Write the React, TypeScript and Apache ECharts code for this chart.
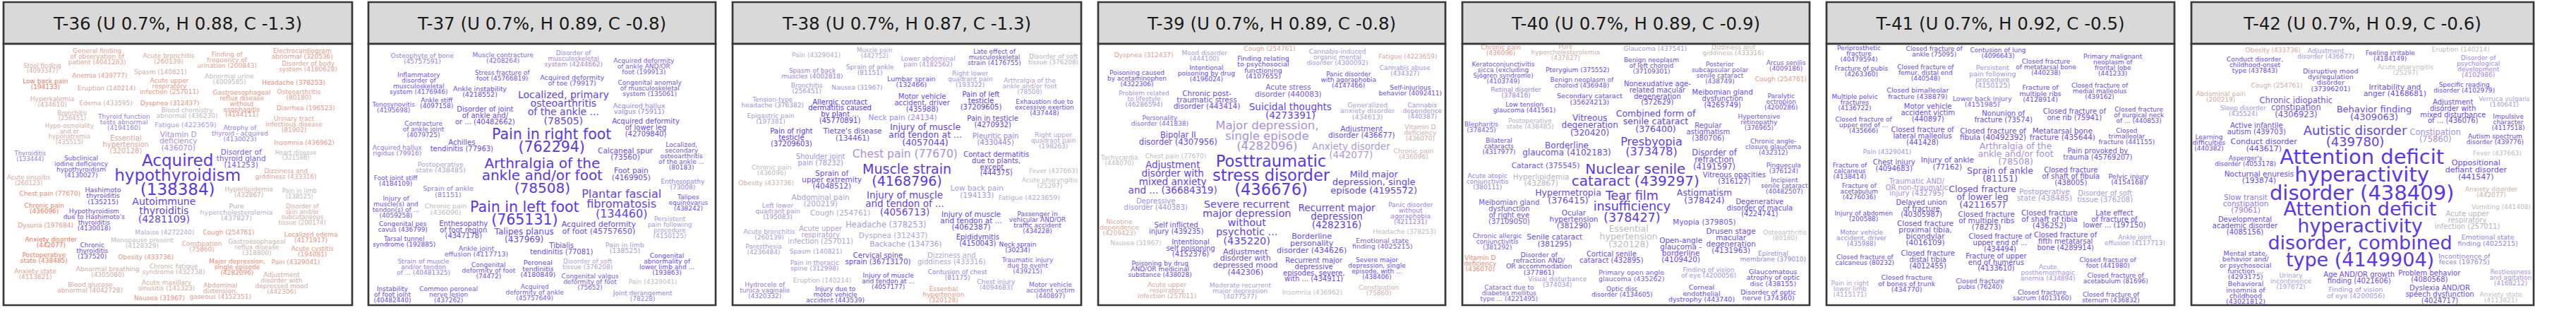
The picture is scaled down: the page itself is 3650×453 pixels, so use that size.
import { useEffect, useRef } from "react";
import * as echarts from "echarts";

// [label, x, y, weight, tone]  x/y are layout units of the cloud (3 per px of its crop)
type Word = [string, number, number, number, number];

const titles = [
  "T-36 (U 0.7%, H 0.88, C -1.3)",
  "T-37 (U 0.7%, H 0.89, C -0.8)",
  "T-38 (U 0.7%, H 0.87, C -1.3)",
  "T-39 (U 0.7%, H 0.89, C -0.8)",
  "T-40 (U 0.7%, H 0.89, C -0.9)",
  "T-41 (U 0.7%, H 0.92, C -0.5)",
  "T-42 (U 0.7%, H 0.9, C -0.6)",
];

const t36: Word[] = [
  ["General finding\nof observation of\npatient (4041283)", 413, 240, 9, -1],
  ["Acute bronchitis\n(260139)", 717, 248, 9, -0.8],
  ["Finding of\nfrequency of\nurination (200843)", 965, 255, 9, -1],
  ["Electrocardiogram\nabnormal (320536)", 1285, 228, 9, -1.2],
  ["Stool finding\n(4093347)", 180, 290, 8.5, -0.6],
  ["Disorder of body\nsystem (4180628)", 1310, 283, 9, -1],
  ["Spasm (140821)", 682, 305, 9, -0.6],
  ["Anemia (439777)", 424, 320, 9, -1.2],
  ["Abnormal urine\n(4009585)", 975, 335, 9, 0],
  ["Low back pain\n(194133)", 193, 358, 9, -1.9],
  ["Headache (378253)", 1248, 350, 9, -1.5],
  ["Eruption (140214)", 453, 374, 9, -0.8],
  ["Acute upper\nrespiratory\ninfection (257011)", 720, 367, 9, -1.2],
  ["Gastroesophageal\nreflux disease\nwithout\nesophagitis\n(4144111)", 1028, 440, 9, -1.3],
  ["Osteoarthritis\n(80180)", 1270, 402, 9, -1],
  ["Hyperkalemia\n(434610)", 222, 433, 9, -0.7],
  ["Edema (433595)", 450, 437, 9, -0.5],
  ["Dyspnea (312437)", 722, 437, 9, -1.3],
  ["Diarrhea (196523)", 1300, 458, 9, -1.2],
  ["Blood chemistry\nabnormal (436230)", 795, 479, 9, -0.1],
  ["Bronchitis\n(256451)", 307, 490, 8.5, -0.5],
  ["Thyroid function\ntests abnormal\n(4194160)", 527, 518, 9, 1.2],
  ["Fatigue (4223659)", 789, 528, 9.5, 0.8],
  ["Urinary tract\ninfectious disease\n(81902)", 1250, 528, 9, -1],
  ["Hypo-osmolality\nand or\nhyponatremia\n(435515)", 295, 568, 8.5, -0.5],
  ["Atrophy of\nthyroid - acquired\n(4130023)", 1020, 568, 9, 1.2],
  ["Essential\nhypertension\n(320128)", 535, 613, 10, -0.8],
  ["Vitamin D\ndeficiency\n(436070)", 758, 598, 10.5, 1],
  ["Insomnia (436962)", 1293, 605, 9, -1.2],
  ["Thyroiditis\n(133444)", 128, 663, 8.5, 1.2],
  ["Subclinical\niodine deficiency\nhypothyroidism\n(4130027)", 345, 708, 9, 1.7],
  ["Acquired\nhypothyroidism\n(138384)", 755, 743, 23, 2],
  ["Disorder of\nthyroid gland\n(141253)", 1025, 672, 10.5, 1.6],
  ["Heart disease\n(321588)", 1257, 659, 8.5, 0],
  ["Dizziness and\ngiddiness (433316)", 1216, 737, 9, -0.8],
  ["Acute sinusitis\n(260123)", 122, 765, 8.5, -0.7],
  ["Hyperlipidemia\n(432867)", 1058, 817, 9, -0.6],
  ["Pain in limb\n(138525)", 1273, 822, 8.5, -0.1],
  ["Chest pain (77670)", 212, 821, 9, -1.5],
  ["Hashimoto\nthyroiditis\n(135215)", 438, 830, 9.5, 1.8],
  ["Autoimmune\nthyroiditis\n(4281109)", 697, 893, 14, 1.9],
  ["Pure\nhypercholesterolemia\n(437827)", 1005, 900, 9.5, 0.3],
  ["Disorder of\nskin and/or\nsubcutaneous\ntissue (200174)", 1285, 910, 8.5, -0.6],
  ["Chronic pain\n(436096)", 188, 885, 9, -1.8],
  ["Hypothyroidism\ndue to Hashimoto's\nthyroiditis\n(4130018)", 400, 932, 9, 1.8],
  ["Dysuria (197684)", 194, 958, 9, -1.2],
  ["Malaise (4272240)", 700, 988, 9, 0.5],
  ["Cough (254761)", 972, 988, 9, -1.3],
  ["Localized edema\n(4171917)", 1322, 1007, 9, -1.3],
  ["Anxiety disorder\n(442077)", 217, 1030, 9, -2],
  ["Chronic\nthyroiditis\n(137520)", 392, 1065, 9, 1.8],
  ["Menopause present\n(4128329)", 604, 1033, 9, 0],
  ["Constipation\n(75860)", 858, 1047, 9, -1],
  ["Gastroesophageal\nreflux disease\n(318800)", 1092, 1050, 9, -0.3],
  ["Acute cystitis\n(194081)", 1328, 1067, 9, -1.2],
  ["Postoperative\nstate (438485)", 187, 1095, 9, -1.8],
  ["Obesity (433736)", 620, 1093, 9, -1.3],
  ["Major depression,\nsingle episode\n(4282096)", 1008, 1133, 9, -1.5],
  ["Pain (4329041)", 1257, 1114, 9, -1.2],
  ["Anxiety state\n(4113821)", 150, 1165, 9, -1],
  ["Abnormal breathing\n(4305080)", 458, 1155, 9, -0.6],
  ["Chronic fatigue\nsyndrome (432738)", 738, 1142, 9, -0.3],
  ["Adjustment\ndisorder with\ndepressed mood\n(442306)", 1197, 1203, 9, -0.7],
  ["Blood glucose\nabnormal (4042728)", 383, 1220, 9, -0.8],
  ["Acute maxillary\nsinusitis (141323)", 708, 1213, 9, -0.7],
  ["Abdominal\ndistension,\ngaseous (4152351)", 937, 1235, 9, -1],
  ["Nausea (31967)", 678, 1267, 9, -1.3],
];

const t37: Word[] = [
  ["Osteophyte of bone\n(45757591)", 235, 250, 9, 1.2],
  ["Muscle contracture\n(4208264)", 578, 245, 9, 1.5],
  ["Disorder of\nmusculoskeletal\nsystem (4244662)", 878, 250, 9, 1.1],
  ["Acquired deformity\nof ankle AND/OR\nfoot (199913)", 1177, 282, 9, 1.6],
  ["Inflammatory\ndisorder of\nmusculoskeletal\nsystem (4176946)", 220, 355, 9, 1.7],
  ["Stress fracture of\nfoot (45766819)", 575, 320, 9, 1.7],
  ["Acquired deformity\nof toe (79917)", 872, 340, 9.5, 1.7],
  ["Congenital anomaly\nof musculoskeletal\nsystem (135061)", 1202, 375, 9, 1.7],
  ["Ankle instability\n(4218552)", 480, 388, 9.5, 1.8],
  ["Localized, primary\nosteoarthritis\nof the ankle ...\n(78505)", 835, 457, 14, 1.9],
  ["Ankle stiff\n(4097158)", 296, 437, 9, 1.8],
  ["Tenosynovitis\n(4195698)", 113, 455, 9, 1.6],
  ["Disorder of joint\nof ankle and/\nor ... (40482662)", 502, 490, 10, 1.8],
  ["Acquired hallux\nvalgus (75911)", 1157, 460, 9.5, 1.2],
  ["Acquired deformity\nof lower leg\n(42709840)", 1185, 542, 10, 1.8],
  ["Contracture\nof ankle joint\n(4079725)", 240, 548, 9, 1.7],
  ["Pain in right foot\n(762294)", 785, 598, 20.5, 2],
  ["Achilles\ntendinitis (77963)", 403, 617, 10, 1.8],
  ["Acquired hallux\nrigidus (79916)", 128, 638, 9, 1.3],
  ["Calcaneal spur\n(73560)", 1098, 653, 10.5, 1.8],
  ["Localized,\nsecondary\nosteoarthritis\nof the ankle ...\n(80183)", 1337, 663, 9, 1.7],
  ["Postoperative\nstate (438485)", 313, 710, 9.5, 0.6],
  ["Arthralgia of the\nankle and/or foot\n(78508)", 745, 745, 20, 2],
  ["Foot pain\n(4169905)", 1123, 738, 10.5, 1.8],
  ["Foot joint stiff\n(4184109)", 122, 768, 9, 1.7],
  ["Enthesopathy\n(73008)", 1342, 782, 9, 1.2],
  ["Sprain of ankle\n(81151)", 345, 813, 9.5, 1.3],
  ["Plantar fascial\nfibromatosis\n(134460)", 1082, 865, 16, 1.9],
  ["Talipes\nequinovarus\n(438242)", 1366, 860, 9, 1.7],
  ["Injury of\nmuscle(s) and\ntendon(s) of ...\n(4059258)", 123, 880, 9, 1.7],
  ["Chronic pain\n(436096)", 335, 888, 9.5, 0],
  ["Pain in left foot\n(765131)", 670, 905, 20.5, 2],
  ["Persistent\npain following\nprocedure\n(4150125)", 1287, 965, 9, 0.8],
  ["Congenital pes\ncavus (436799)", 152, 963, 9, 1.8],
  ["Enthesopathy\nof foot region\n(4347178)", 410, 975, 10, 1.8],
  ["Talipes planus\n(437969)", 668, 1000, 12, 1.8],
  ["Acquired deformity\nof foot (45757650)", 985, 967, 11, 1.8],
  ["Tarsal tunnel\nsyndrome (192885)", 158, 1025, 9, 1.8],
  ["Ankle joint\neffusion (4117713)", 465, 1066, 9.5, 1.6],
  ["Tibialis\ntendinitis (77081)", 827, 1055, 10, 1.8],
  ["Pain in limb\n(138525)", 1096, 1051, 9.5, 0.8],
  ["Strain of muscle\nand/or tendon\nof ... (40481325)", 240, 1133, 9, 1.2],
  ["Congenital\ndeformity of foot\n(74472)", 517, 1150, 9, 1.7],
  ["Peroneal\ntendinitis\n(4180849)", 727, 1140, 9.5, 1.8],
  ["Disorder of soft\ntissue (376208)", 938, 1121, 9, 0.6],
  ["Congenital\nabnormality of\nlower limb and ...\n(193863)", 1275, 1122, 9, 1.8],
  ["Congenital valgus\ndeformity of foot\n(75652)", 948, 1198, 9, 1.6],
  ["Pain (4329041)", 1215, 1196, 9, 0],
  ["Instability\nof foot joint\n(40482440)", 108, 1250, 9, 1.8],
  ["Common peroneal\nnerve lesion\n(437262)", 347, 1250, 9, 1.7],
  ["Acquired\ndeformity of ankle\n(45757649)", 713, 1243, 9, 1.6],
  ["Joint derangement\n(78228)", 1172, 1258, 9, 1.2],
];

const t38: Word[] = [
  ["Pain (4329041)", 350, 233, 9, 0.5],
  ["Muscle pain\n(442752)", 598, 225, 8.5, 0.7],
  ["Lower abdominal\npain (4182562)", 825, 260, 9, 1],
  ["Late effect of\nmusculoskeletal\nstrain (4176755)", 1107, 243, 9, 1.8],
  ["Disorder of soft\ntissue (376208)", 1358, 252, 9, 0.3],
  ["Spasm of back\nmuscles (4002818)", 333, 312, 9, 1.2],
  ["Sprain of ankle\n(81151)", 578, 297, 9, 1.1],
  ["Lumbar sprain\n(132466)", 754, 346, 9.5, 1.8],
  ["Right lower\nquadrant pain\n(193322)", 1004, 335, 9, 1],
  ["Arthralgia of the\nankle and/or foot\n(78508)", 1257, 367, 9, 0.6],
  ["Bronchitis\n(256451)", 309, 374, 9, 1],
  ["Nausea (31967)", 523, 371, 9, 1],
  ["Tension-type\nheadache (376382)", 164, 436, 9, 1],
  ["Allergic contact\ndermatitis caused\nby plant ...\n(45770891)", 450, 472, 10, 2],
  ["Motor vehicle\naccident, driver\n(435988)", 800, 437, 10, 1.8],
  ["Pain of left\ntesticle\n(37209605)", 1050, 428, 10, 2],
  ["Exhaustion due to\nexcessive exertion\n(437448)", 1320, 455, 9, 1.8],
  ["Epigastric pain\n(197381)", 156, 505, 9, 0.8],
  ["Neck pain (24134)", 717, 498, 10.5, 1.1],
  ["Pain in testicle\n(4270932)", 1100, 515, 10, 1.9],
  ["Pain of right\ntesticle\n(37209603)", 244, 583, 10, 2],
  ["Tietze's disease\n(134461)", 504, 570, 10.5, 1.8],
  ["Injury of muscle\nand tendon at ...\n(4057044)", 813, 570, 12.5, 1.9],
  ["Pleuritic pain\n(4330445)", 1112, 590, 10, 1.2],
  ["Right upper\nquadrant pain\n(198263)", 1358, 598, 9, 0.6],
  ["Chest pain (77670)", 727, 655, 15.5, 1],
  ["Contact dermatitis\ndue to plants,\nexcept ...\n(444375)", 1115, 695, 10, 1.9],
  ["Shoulder joint\npain (78232)", 368, 677, 10, 1],
  ["Chronic pain\n(436096)", 160, 722, 9, 0],
  ["Fever (437663)", 1358, 725, 9, 0],
  ["Muscle strain\n(4168796)", 735, 743, 19, 2],
  ["Sprain of\nupper extremity\n(4048512)", 416, 762, 10.5, 1.8],
  ["Obesity (433736)", 137, 778, 9, -0.5],
  ["Acute pharyngitis\n(25297)", 1342, 778, 9, 0],
  ["Low back pain\n(194133)", 1033, 813, 10.5, 0.8],
  ["Fatigue (4223659)", 1255, 838, 9.5, 0.4],
  ["Abdominal pain\n(200219)", 368, 850, 10.5, 0.7],
  ["Injury of muscle\nand tendon of ...\n(4056713)", 726, 865, 13.5, 1.9],
  ["Left lower\nquadrant pain\n(195083)", 186, 898, 9, 1],
  ["Cough (254761)", 452, 903, 10.5, 0.5],
  ["Injury of muscle\nand tendon at ...\n(4062387)", 1008, 936, 10.5, 1.9],
  ["Passenger in\nvehicular AND/OR\ntraffic accident\n(434228)", 1290, 946, 9, 1.8],
  ["Headache (378253)", 646, 955, 11.5, 0.8],
  ["Acute bronchitis\n(260139)", 150, 996, 9, 0.8],
  ["Acute upper\nrespiratory\ninfection (257011)", 368, 997, 10, 0.6],
  ["Dyspnea (312437)", 677, 1000, 10.5, 0.6],
  ["Epididymitis\n(4150043)", 1036, 1020, 10, 1.9],
  ["Neck sprain\n(30234)", 1206, 1050, 9, 1.9],
  ["Paresthesia\n(4236484)", 126, 1060, 9, 0.8],
  ["Spasm (140821)", 348, 1067, 9, 0.8],
  ["Backache (134736)", 730, 1035, 10.5, 0.8],
  ["Cervical spine\nsprain (36713170)", 612, 1098, 10, 1.9],
  ["Dizziness and\ngiddiness (433316)", 925, 1098, 10, 0.5],
  ["Traumatic injury\ndue to event\n(439215)", 1248, 1127, 9, 1.6],
  ["Pain in thoracic\nspine (312998)", 343, 1127, 9, 1],
  ["Contusion of chest\n(81175)", 950, 1168, 9, 1.2],
  ["Eruption (140214)", 375, 1190, 9, 0.2],
  ["Injury of muscle\nand tendon at ...\n(4057177)", 656, 1193, 9, 1.9],
  ["Chest injury\n(4094683)", 1114, 1208, 9, 1],
  ["Motor vehicle\naccident victim\n(440897)", 1345, 1232, 9, 1.6],
  ["Hydrocele of\ntunica vaginalis\n(4320332)", 131, 1233, 9, 1.3],
  ["Injury due to\nmotor vehicle\naccident (443539)", 431, 1250, 9, 1.8],
  ["Essential\nhypertension\n(320128)", 891, 1250, 9, -1.2],
];

const t39: Word[] = [
  ["Dyspnea (312437)", 182, 233, 9, -1],
  ["Mood disorder\n(444100)", 440, 238, 9, 0.8],
  ["Cough (254761)", 717, 206, 9, -0.9],
  ["Cannabis-induced\norganic mental\ndisorder (4300092)", 1005, 242, 9, 0.9],
  ["Fatigue (4223659)", 1305, 239, 9, -0.7],
  ["Finding relating\nto psychosocial\nfunctioning\n(4107655)", 690, 285, 9.5, 1.8],
  ["Poisoning caused\nby acetaminophen\n(4322306)", 153, 333, 9, 1.8],
  ["Intentional\npoisoning by drug\n(4196024)", 448, 313, 9, 1.8],
  ["Cannabis abuse\n(434327)", 1292, 301, 9, 1],
  ["Panic disorder\nwith agoraphobia\n(4147466)", 1052, 340, 9, 1.8],
  ["Acute stress\ndisorder (440083)", 796, 384, 10.5, 1.6],
  ["Self-injurious\nbehavior (4092411)", 1315, 383, 9, 1.8],
  ["Problem related\nto lifestyle\n(46286594)", 183, 420, 9, 1],
  ["Chronic post-\ntraumatic stress\ndisorder (443414)", 450, 423, 10.5, 1.8],
  ["Suicidal thoughts\n(4273391)", 805, 472, 13.5, 1.9],
  ["Generalized\nanxiety disorder\n(434613)", 1133, 470, 9.5, 0.7],
  ["Cannabis\ndependence\n(440387)", 1366, 470, 9, 1],
  ["Personality\ndisorder (441838)", 250, 512, 9, 1.5],
  ["Major depression,\nsingle episode\n(4282096)", 706, 576, 16.5, 1],
  ["Adjustment\ndisorder (436677)", 1108, 560, 10.5, 1.8],
  ["Vitamin D\ndeficiency\n(436070)", 1357, 565, 9, -0.5],
  ["Bipolar II\ndisorder (4307956)", 328, 587, 11.5, 1.8],
  ["Anxiety disorder\n(442077)", 1063, 640, 13.5, 0.8],
  ["Chronic pain\n(436096)", 1329, 655, 9, -0.4],
  ["Tachycardia\n(444070)", 78, 680, 9, 0],
  ["Chest pain (77670)", 318, 662, 9, 0],
  ["Adjustment\ndisorder with\nmixed anxiety\nand ... (36684319)", 305, 753, 13.5, 1.9],
  ["Posttraumatic\nstress disorder\n(436676)", 723, 744, 22.5, 2],
  ["Mild major\ndepression, single\nepisode (4195572)", 1160, 773, 13, 1.9],
  ["Depressive\ndisorder (440383)", 233, 868, 10, 1],
  ["Severe recurrent\nmajor depression\nwithout\npsychotic ...\n(435220)", 620, 945, 14.5, 1.9],
  ["Recurrent major\ndepression\n(4282316)", 1002, 918, 13.5, 1.9],
  ["Panic disorder\nwithout\nagoraphobia\n(4211231)", 1316, 907, 9, 1.2],
  ["Nicotine\ndependence\n(4209423)", 78, 965, 9, -0.7],
  ["Self inflicted\ninjury (439235)", 320, 968, 10, 1.8],
  ["Headache (378253)", 1290, 983, 9, 0],
  ["Nausea (31967)", 148, 1033, 9, 0],
  ["Intentional\nself poisoning\n(4152376)", 381, 1053, 10, 1.8],
  ["Borderline\npersonality\ndisorder (434626)", 896, 1033, 11, 1.8],
  ["Emotional state\nfinding (4025215)", 1196, 1033, 9.5, 1.6],
  ["Adjustment\ndisorder with\ndepressed mood\n(442306)", 614, 1112, 11, 1.8],
  ["Poisoning by drug\nAND/OR medicinal\nsubstance (438028)", 251, 1143, 9, 1.8],
  ["Recurrent major\ndepressive\nepisodes, severe,\nwith ... (434911)", 905, 1145, 10, 1.8],
  ["Severe major\ndepression, single\nepisode, with ...\n(438406)", 1173, 1140, 9, 1.8],
  ["Acute upper\nrespiratory\ninfection (257011)", 281, 1233, 9, -0.7],
  ["Moderate recurrent\nmajor depression\n(4077577)", 592, 1237, 9, 0.8],
  ["Insomnia (436962)", 898, 1243, 9, 0],
  ["Constipation\n(75860)", 1181, 1232, 9, -0.4],
];

const t40: Word[] = [
  ["Chronic pain\n(436096)", 140, 212, 9, -1.2],
  ["Pure\nhypercholesterolemia\n(437827)", 415, 222, 9, -0.5],
  ["Glaucoma (437541)", 796, 208, 9, 0.8],
  ["Dizziness and\ngiddiness (433316)", 1128, 212, 9, -0.3],
  ["Keratoconjunctivitis\nsicca (excluding\nSjögren syndrome)\n(4103749)", 150, 310, 9, 1.7],
  ["Pterygium (375552)", 466, 296, 9, 1.8],
  ["Benign neoplasm\nof left choroid\n(37109301)", 780, 278, 9, 1.8],
  ["Posterior\nsubcapsular polar\nsenile cataract\n(438749)", 1071, 310, 9, 1.7],
  ["Arcus senilis\n(4009186)", 1352, 280, 9, 1.7],
  ["Cough (254761)", 1330, 335, 9, -1.2],
  ["Benign neoplasm of\nchoroid (436948)", 484, 350, 9, 1.7],
  ["Retinal disorder\n(378416)", 204, 392, 9, 1.2],
  ["Nonexudative age-\nrelated macular\ndegeneration\n(372629)", 805, 395, 10, 1.8],
  ["Secondary cataract\n(35624213)", 517, 420, 9.5, 1.8],
  ["Meibomian gland\ndysfunction\n(4265749)", 1082, 418, 10, 1.8],
  ["Paralytic\nectropion\n(4200286)", 1331, 433, 9, 1.7],
  ["Low tension\nglaucoma (441561)", 240, 455, 9, 1.8],
  ["Combined form of\nsenile cataract\n(376400)", 798, 515, 12.5, 1.9],
  ["Vitreous\ndegeneration\n(320420)", 518, 532, 12, 1.8],
  ["Postoperative\nstate (438485)", 264, 525, 9, 0.3],
  ["Blepharitis\n(378425)", 57, 540, 9, 1.6],
  ["Regular\nastigmatism\n(380706)", 1021, 560, 10, 1.7],
  ["Hypertensive\nretinopathy\n(376965)", 1237, 520, 9, 1.7],
  ["Bilateral\ncataracts\n(4317977)", 132, 622, 9, 1.8],
  ["Borderline\nglaucoma (4102183)", 420, 633, 12, 1.8],
  ["Presbyopia\n(373478)", 780, 622, 16, 1.9],
  ["Disorder of\nrefraction\n(4191597)", 1047, 677, 11.5, 1.8],
  ["Chronic angle-\nclosure glaucoma\n(432312)", 1298, 623, 9, 1.7],
  ["Cataract (375545)", 330, 703, 10.5, 1.7],
  ["Nuclear senile\ncataract (439297)", 712, 743, 20, 2],
  ["Pinguecula\n(376124)", 1342, 715, 9, 1.7],
  ["Vitreous opacities\n(316127)", 1132, 757, 10, 1.8],
  ["Acute atopic\nconjunctivitis\n(380111)", 83, 770, 9, 1.2],
  ["Hyperlipidemia\n(432867)", 311, 763, 10.5, 0.2],
  ["Incipient\nsenile cataract\n(40482507)", 1345, 788, 9, 1.7],
  ["Hypermetropia\n(376415)", 426, 835, 12.5, 1.8],
  ["Tear film\ninsufficiency\n(378427)", 697, 877, 17.5, 2],
  ["Astigmatism\n(378424)", 1005, 835, 12.5, 1.8],
  ["Degenerative\ndisorder of macula\n(4224741)", 1240, 882, 10, 1.8],
  ["Meibomian gland\ndysfunction\nof right eye\n(37109050)", 175, 900, 10, 1.7],
  ["Ocular\nhypertension\n(381290)", 450, 930, 10.5, 1.8],
  ["Myopia (379805)", 1005, 942, 10.5, 1.7],
  ["Essential\nhypertension\n(320128)", 683, 1003, 12.5, 0],
  ["Chronic allergic\nconjunctivitis\n(381292)", 125, 1025, 9, 1.6],
  ["Senile cataract\n(381295)", 368, 1020, 10.5, 1.8],
  ["Drusen stage\nmacular\ndegeneration\n(4131963)", 1118, 1022, 10.5, 1.8],
  ["Osteoarthritis\n(80180)", 1347, 1000, 9, 0],
  ["Open-angle\nglaucoma -\nborderline\n(4109420)", 905, 1060, 10.5, 1.8],
  ["Vitamin D\ndeficiency\n(436070)", 52, 1118, 9, -1.5],
  ["Disorder of\nrefraction AND/\nOR accommodation\n(377861)", 302, 1118, 9.5, 1.8],
  ["Cortical senile\ncataract (432895)", 610, 1093, 10, 1.8],
  ["Epiretinal\nmembrane (379010)", 1297, 1088, 9, 1.2],
  ["Finding of vision\nof eye (4200056)", 1023, 1157, 9, 1],
  ["Glaucomatous\natrophy of optic\ndisc (438155)", 1297, 1178, 9.5, 1.8],
  ["Primary open angle\nglaucoma (435262)", 695, 1170, 9.5, 1.6],
  ["Visual disturbance\n(374034)", 380, 1198, 9, 1],
  ["Cataract due to\ndiabetes mellitus\ntype ... (4221495)", 175, 1245, 9, 1.6],
  ["Optic disc\ndisorder (4134605)", 655, 1238, 9, 1.8],
  ["Corneal\nendothelial\ndystrophy (443740)", 993, 1245, 9.5, 1.8],
  ["Disorder of optic\nnerve (374360)", 1277, 1252, 9.5, 1.8],
];

const t41: Word[] = [
  ["Periprosthetic\nfracture\n(40479594)", 102, 228, 9, 1.8],
  ["Closed fracture of\nankle (75095)", 422, 220, 9, 1.8],
  ["Contusion of lung\n(4096643)", 693, 226, 9, 1.8],
  ["Closed fracture\nof metatarsal bone\n(440238)", 897, 284, 9, 1.8],
  ["Primary malignant\nneoplasm of\nfrontal lobe\n(441233)", 1181, 275, 9, 1.8],
  ["Fracture of pubis\n(4263360)", 112, 303, 9, 1.8],
  ["Closed fracture of\nfemur, distal end\n(440548)", 385, 308, 9, 1.8],
  ["Persistent\npain following\nprocedure\n(4150125)", 670, 325, 9.5, 1],
  ["Fracture of\nmultiple ribs\n(4128914)", 873, 397, 9.5, 1.8],
  ["Closed fracture of\nmedial malleolus\n(439162)", 1125, 386, 9, 1.8],
  ["Closed bimalleolar\nfracture (438879)", 352, 396, 9.5, 1.8],
  ["Lower back injury\n(4151985)", 626, 430, 9.5, 1.6],
  ["Multiple pelvic\nfractures\n(4136722)", 84, 435, 9, 1.8],
  ["Motor vehicle\naccident victim\n(440897)", 395, 478, 10, 1.8],
  ["Nonunion of\nfracture (73574)", 716, 495, 10, 1.8],
  ["Closed fracture of\none rib (75941)", 1018, 487, 10, 1.8],
  ["Closed fracture\nof surgical neck\nof ... (440853)", 1292, 488, 9, 1.8],
  ["Closed fracture of\nupper end of ...\n(435666)", 122, 532, 9, 1.8],
  ["Closed fracture of\nlateral malleolus\n(441428)", 372, 577, 10, 1.8],
  ["Closed fracture of\nfibula (40492392)", 672, 568, 10.5, 1.8],
  ["Metatarsal bone\nfracture (435644)", 967, 568, 10.5, 1.8],
  ["Closed\ntrimalleolar\nfracture (441155)", 1240, 580, 9, 1.8],
  ["Pain (4329041)", 222, 645, 9, 1],
  ["Arthralgia of the\nankle and/or foot\n(78508)", 768, 652, 12.5, 1],
  ["Pain provoked by\ntrauma (45769207)", 1117, 655, 10, 1.7],
  ["Fracture of\ncalcaneus\n(4138414)", 63, 725, 9, 1.8],
  ["Chest injury\n(4094683)", 251, 703, 10, 1.8],
  ["Injury of ankle\n(77162)", 478, 693, 10.5, 1.8],
  ["Sprain of ankle\n(81151)", 702, 742, 12.5, 1.8],
  ["Closed fracture\nof shaft of fibula\n(438005)", 1003, 748, 10, 1.8],
  ["Pelvic injury\n(4154168)", 1248, 760, 9.5, 1.8],
  ["Fracture of\nacetabulum\n(4276036)", 103, 812, 9, 1.8],
  ["Traumatic AND/\nOR non-traumatic\ninjury (432795)", 348, 795, 10, 1],
  ["Closed fracture\nof lower leg\n(4211657)", 627, 835, 12.5, 1.8],
  ["Postoperative\nstate (438485)", 891, 827, 10.5, 0.8],
  ["Disorder of soft\ntissue (376208)", 1148, 833, 10, 0.8],
  ["Delayed union\nof fracture\n(40305987)", 368, 885, 10, 1.8],
  ["Injury of abdomen\n(200588)", 122, 918, 9, 1.8],
  ["Closed fracture\nof multiple ribs\n(78273)", 644, 936, 10.5, 1.8],
  ["Closed fracture\nof shaft of tibia\n(436252)", 912, 930, 10.5, 1.8],
  ["Late effect\nof fracture of\nlower ... (197150)", 1188, 930, 10, 1.8],
  ["Motor vehicle\naccident, driver\n(435988)", 113, 1010, 9, 1.2],
  ["Closed fracture\nproximal tibia,\nbicondylar\n(4016109)", 384, 988, 10.5, 1.8],
  ["Closed fracture of\nupper end of ...\n(434494)", 702, 1030, 10, 1.8],
  ["Closed fracture of\nfifth metatarsal\nbone (4289914)", 980, 1025, 10, 1.8],
  ["Ankle joint\neffusion (4117713)", 1275, 1019, 9, 1],
  ["Closed fracture of\ncalcaneus (80232)", 127, 1103, 9, 1.8],
  ["Closed fracture\ndistal tibia\n(4012455)", 395, 1102, 10, 1.8],
  ["Fracture of upper\nend of humerus\n(4133610)", 685, 1113, 10, 1.8],
  ["Closed fracture of\nfoot (441980)", 1160, 1117, 9, 1.8],
  ["Acute\nposthemorrhagic\nanemia (434894)", 905, 1157, 9, 1],
  ["Closed fracture of\nacetabulum (81696)", 1193, 1183, 9, 1.8],
  ["Pain in right\nlower limb\n(4115171)", 64, 1228, 9, 0.7],
  ["Closed fracture\nof bones of trunk\n(434770)", 305, 1203, 9.5, 1.8],
  ["Closed fracture\npubis (76240)", 617, 1205, 9, 1.8],
  ["Closed fracture\nsacrum (4013160)", 880, 1255, 9, 1.8],
  ["Closed fracture of\nsternum (436832)", 1173, 1262, 9, 1.8],
];

const t42: Word[] = [
  ["Obesity (433736)", 302, 212, 9, -0.8],
  ["Adjustment\ndisorder (436677)", 527, 228, 9, 1],
  ["Feeling irritable\n(4184149)", 800, 238, 9, 1.8],
  ["Eruption (140214)", 1100, 209, 9, 0],
  ["Conduct disorder,\nchildhood-onset\ntype (437843)", 225, 276, 9, 1.8],
  ["Disruptive mood\ndysregulation\ndisorder\n(37396201)", 547, 338, 9.5, 1.8],
  ["Acute pharyngitis\n(25297)", 865, 298, 9, 0],
  ["Disorder of\npsychological\ndevelopment\n(4102986)", 1175, 282, 9, 1.1],
  ["Cough (254761)", 318, 364, 9, -0.5],
  ["Irritability and\nanger (4168681)", 820, 383, 10.5, 1.8],
  ["Specific reading\ndisorder (4102979)", 1115, 371, 9, 1.8],
  ["Abdominal pain\n(200219)", 80, 412, 9, -0.6],
  ["Chronic idiopathic\nconstipation\n(4306923)", 400, 455, 11.5, 1.7],
  ["Verruca vulgaris\n(140641)", 1285, 433, 9, 0.7],
  ["Sleep disorder\n(435524)", 175, 472, 9, 1],
  ["Behavior finding\n(4309063)", 732, 480, 13, 1.8],
  ["Adjustment\ndisorder with\nmixed disturbance\nof ... (436076)", 1067, 473, 10, 1.8],
  ["Impulsive\ncharacter\n(4117518)", 1302, 518, 9, 1.8],
  ["Active infantile\nautism (439703)", 232, 546, 10, 1.8],
  ["Autistic disorder\n(439780)", 651, 578, 18, 1.9],
  ["Constipation\n(75860)", 992, 575, 11.5, 1],
  ["Learning\ndifficulties\n(440382)", 30, 605, 9, 1.8],
  ["Conduct disorder\n(443617)", 263, 617, 11, 1.8],
  ["Autism spectrum\ndisorder (439776)", 1246, 590, 9, 1.8],
  ["Fever (437663)", 1255, 650, 9, 0],
  ["Asperger's\ndisorder (4053178)", 185, 685, 9, 1.8],
  ["Attention deficit\nhyperactivity\ndisorder (438409)", 680, 742, 29, 2],
  ["Oppositional\ndefiant disorder\n(441547)", 1165, 722, 11, 1.8],
  ["Nocturnal enuresis\n(193874)", 243, 752, 10.5, 1.8],
  ["Anxiety disorder\n(442077)", 1230, 817, 9, -0.4],
  ["Slow transit\nconstipation\n(79061)", 186, 864, 10.5, 1.3],
  ["Vomiting (441408)", 1272, 880, 9, 0],
  ["Attention deficit\nhyperactivity\ndisorder, combined\ntype (4149904)", 672, 995, 27, 2],
  ["Acute upper\nrespiratory\ninfection (257011)", 1128, 935, 10, 0.2],
  ["Developmental\nacademic disorder\n(4085156)", 183, 958, 10, 1.8],
  ["Emotional state\nfinding (4025215)", 1215, 1020, 9.5, 1.2],
  ["Incontinence of\nfeces (197675)", 1115, 1100, 9.5, 1.2],
  ["Mental state,\nbehavior and/\nor psychosocial\nfunction ...\n(4293175)", 185, 1125, 9.5, 1.8],
  ["Urinary\nincontinence\n(197672)", 378, 1195, 9, 0.8],
  ["Age AND/OR growth\nfinding (4021606)", 668, 1180, 10, 1.8],
  ["Problem behavior\n(4080568)", 967, 1172, 10, 1.8],
  ["Restlessness\nand agitation\n(4168212)", 1312, 1180, 9, 1],
  ["Behavioral\ninsomnia of\nchildhood\n(43021812)", 186, 1243, 9.5, 1.8],
  ["Finding of vision\nof eye (4200056)", 654, 1242, 9.5, 1],
  ["Dyslexia AND/OR\nspeech dysfunction\n(4024717)", 1011, 1250, 10, 1.8],
  ["Anxiety state\n(4113821)", 1270, 1262, 9, 0],
];

const clouds = [t36, t37, t38, t39, t40, t41, t42];

// layout (px)
const CROP_X = [0, 520, 1040, 1560, 2080, 2600, 3120];
const CROP_W = [520, 520, 520, 520, 520, 520, 530];
const BOX_L = [5, 522, 1038, 1556, 2072, 2588, 3105];
const BOX_R = [499, 1014, 1532, 2048, 2564, 3081, 3590];
const BOX_T = 3;
const HEAD_B = 62;
const BOX_B = 432;
const W = 3650;
const H = 453;
const FONT = "DejaVu Sans";

// salmon -> grey -> violet
const RAMP = [
  [245, 112, 79],
  [226, 160, 142],
  [189, 187, 187],
  [165, 144, 224],
  [90, 54, 244],
];
function toneColor(t: number) {
  const p = Math.max(0, Math.min(3.999, t + 2));
  const i = Math.floor(p);
  const f = p - i;
  const a = RAMP[i];
  const b = RAMP[i + 1];
  return `rgb(${a.map((v, k) => Math.round(v + (b[k] - v) * f)).join(",")})`;
}

const App: React.FC = () => {
  const chartRef = useRef<HTMLDivElement>(null);

  useEffect(() => {
    document.body.style.margin = "0";
    document.body.style.overflow = "hidden";
    const chart = echarts.init(chartRef.current!, null, { renderer: "svg" });

    const covers: any[] = [];
    const white = (x: number, y: number, w: number, h: number) =>
      covers.push({ type: "rect", z: 100, shape: { x, y, width: w, height: h }, style: { fill: "#fff" } });
    white(0, 0, BOX_L[0], H);
    for (let i = 0; i < 6; i++) white(BOX_R[i], 0, BOX_L[i + 1] - BOX_R[i], H);
    white(BOX_R[6], 0, W - BOX_R[6], H);
    white(0, 0, W, BOX_T);
    white(0, BOX_B, W, H - BOX_B);

    const frames: any[] = [];
    titles.forEach((t, i) => {
      const w = BOX_R[i] - BOX_L[i];
      frames.push({
        type: "rect",
        z: 101,
        shape: { x: BOX_L[i], y: BOX_T, width: w, height: HEAD_B - BOX_T },
        style: { fill: "#d9d9d9", stroke: "#383838", lineWidth: 2.7 },
      });
      frames.push({
        type: "rect",
        z: 101,
        shape: { x: BOX_L[i], y: HEAD_B, width: w, height: BOX_B - HEAD_B },
        style: { fill: "none", stroke: "#383838", lineWidth: 2.7 },
      });
      frames.push({
        type: "text",
        z: 102,
        x: BOX_L[i] + w / 2,
        y: (BOX_T + HEAD_B) / 2 + 1,
        style: {
          text: t,
          fontSize: 24.5,
          fontFamily: FONT,
          fill: "#1a1a1a",
          align: "center",
          verticalAlign: "middle",
        },
      });
    });

    const option: echarts.EChartsOption = {
      animation: false,
      backgroundColor: "#fff",
      grid: CROP_X.map((x, i) => ({ left: x, top: 0, width: CROP_W[i], height: H, show: false })),
      xAxis: CROP_W.map((w, i) => ({ type: "value", gridIndex: i, min: 0, max: w * 3, show: false })),
      yAxis: CROP_W.map((_, i) => ({
        type: "value",
        gridIndex: i,
        min: 0,
        max: H * 3,
        inverse: true,
        show: false,
      })),
      series: clouds.map((words, i) => ({
        type: "scatter",
        xAxisIndex: i,
        yAxisIndex: i,
        symbolSize: 0,
        silent: true,
        itemStyle: { color: "rgba(0,0,0,0)" },
        label: {
          show: true,
          position: "inside",
          align: "center",
          verticalAlign: "middle",
          formatter: "{b}",
          fontFamily: FONT,
          opacity: 1,
        },
        data: words.map(([text, x, y, wt, tone]) => ({
          name: text,
          value: [x, y],
          label: { fontSize: wt, lineHeight: Math.round(wt * 0.88 * 10) / 10, color: toneColor(tone) },
        })),
      })) as any,
      graphic: { elements: [...covers, ...frames] },
    };
    chart.setOption(option);

    return () => {
      chart.dispose();
    };
  }, []);

  return <div ref={chartRef} style={{ width: W, height: H }} />;
};

export default App;
